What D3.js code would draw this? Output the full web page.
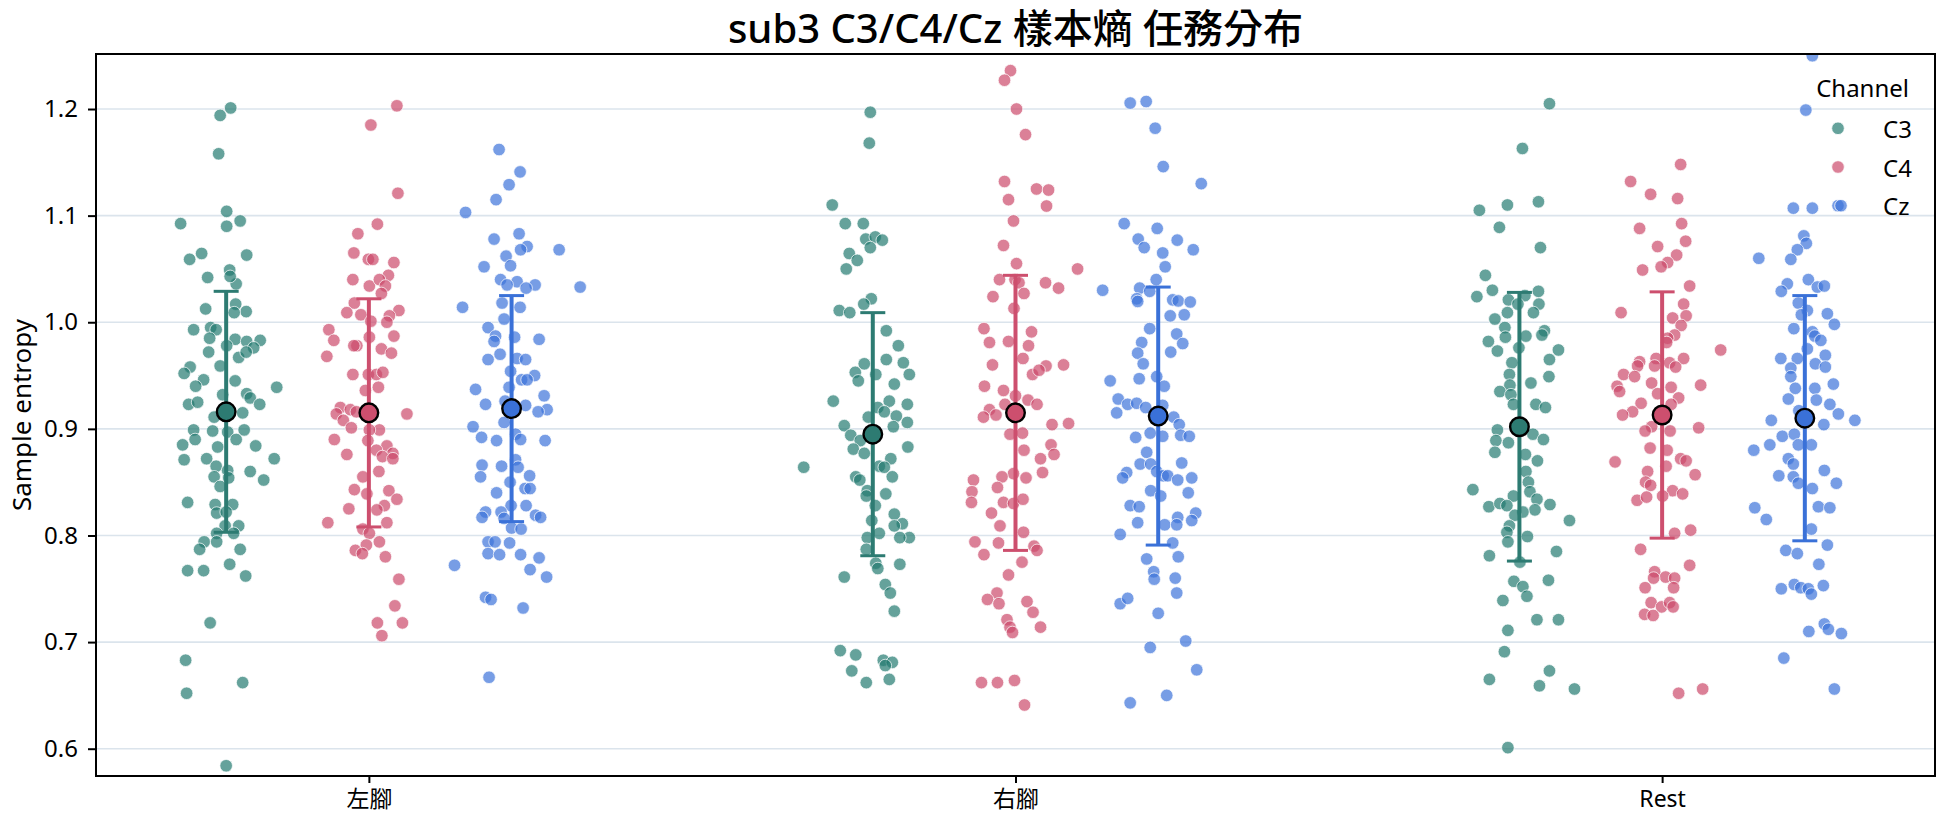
<!DOCTYPE html>
<html>
<head>
<meta charset="utf-8">
<script src="https://cdn.jsdelivr.net/npm/d3@7"></script>
<style>
  html, body { margin: 0; padding: 0; background: #fff; }
  svg { display: block; }
</style>
</head>
<body>
<svg id="chart" width="1944" height="827"></svg>
<script>
// ---------------- DATA ----------------
const categories = ["左腳", "右腳", "Rest"];
const channels = ["C3", "C4", "Cz"];
const yTicks = [0.6, 0.7, 0.8, 0.9, 1.0, 1.1, 1.2];
const titleText = "sub3 C3/C4/Cz 樣本熵 任務分布";
const yLabel = "Sample entropy";
const legendTitle = "Channel";

// point values: [sample entropy, jitter (in jitter units)]
const c3_left = [[1.201,0.09],[1.194,-0.12],[1.158,-0.15],[1.104,0.01],[1.0925,-0.91],[1.090,0.01],[1.095,0.28],[1.059,-0.73],[1.0645,-0.49],[1.063,0.41],[1.042,-0.37],[1.049,0.07],[1.036,0.2],[1.043,0.08],[1.0125,-0.41],[1.017,0.19],[1.010,0.4],[1.009,0.16],[0.993,-0.65],[0.995,-0.31],[0.993,-0.2],[0.985,-0.33],[0.984,0.18],[0.982,0.41],[0.983,0.68],[0.976,0.55],[0.972,-0.35],[0.978,0.01],[0.967,0.25],[0.972,0.4],[0.958,-0.72],[0.952,-0.84],[0.959,-0.12],[0.946,-0.45],[0.945,0.18],[0.940,-0.61],[0.939,1.01],[0.932,-0.07],[0.933,0.41],[0.929,0.48],[0.923,-0.75],[0.925,-0.57],[0.923,0.67],[0.911,-0.24],[0.915,0.33],[0.899,-0.65],[0.898,-0.27],[0.897,0.03],[0.899,0.36],[0.890,-0.62],[0.890,0.2],[0.885,-0.87],[0.883,-0.17],[0.884,0.59],[0.871,-0.84],[0.872,-0.39],[0.872,0.96],[0.865,-0.2],[0.861,0.03],[0.860,0.48],[0.855,-0.24],[0.854,0.05],[0.852,0.75],[0.846,-0.12],[0.831,-0.77],[0.829,-0.22],[0.821,-0.19],[0.829,0.13],[0.822,0],[0.809,0.25],[0.809,-0.02],[0.802,-0.19],[0.802,0.15],[0.794,-0.44],[0.794,-0.19],[0.787,-0.53],[0.787,0.28],[0.767,-0.77],[0.767,-0.45],[0.773,0.07],[0.762,0.39],[0.718,-0.32],[0.683,-0.81],[0.662,0.33],[0.652,-0.79],[0.584,0]];
const c4_left = [[1.203,0.56],[1.185,0.04],[1.121,0.58],[1.092,0.17],[1.083,-0.22],[1.065,-0.3],[1.059,-0.01],[1.059,0.08],[1.056,0.5],[1.044,0.39],[1.040,-0.32],[1.034,0.01],[1.040,0.21],[1.034,0.33],[1.027,0.25],[1.018,-0.29],[1.011,0.6],[1.009,-0.44],[1.007,-0.16],[1.006,0.41],[1.000,0.36],[1.001,0.04],[0.993,-0.8],[0.983,-0.7],[0.986,0.01],[0.987,0.5],[0.978,-0.24],[0.978,-0.3],[0.975,0.25],[0.971,0.45],[0.968,-0.84],[0.951,-0.32],[0.951,-0.01],[0.951,0.15],[0.953,0.28],[0.939,0.19],[0.936,-0.07],[0.920,-0.57],[0.918,-0.37],[0.914,-0.65],[0.916,-0.25],[0.914,0.76],[0.908,-0.51],[0.901,-0.35],[0.899,0.21],[0.899,0.01],[0.890,-0.69],[0.889,-0.02],[0.884,0.36],[0.880,0.15],[0.877,0.48],[0.874,0.27],[0.876,-0.44],[0.872,0.48],[0.860,0.2],[0.855,-0.12],[0.843,-0.29],[0.839,-0.04],[0.842,0.4],[0.834,0.56],[0.825,-0.4],[0.828,0.31],[0.824,0.16],[0.812,-0.82],[0.812,0.36],[0.806,-0.12],[0.802,0.01],[0.794,0.21],[0.791,-0.05],[0.786,-0.27],[0.783,-0.13],[0.780,0.33],[0.759,0.6],[0.734,0.52],[0.718,0.17],[0.718,0.67],[0.706,0.26]];
const cz_left = [[1.162,-0.25],[1.141,0.17],[1.129,-0.05],[1.115,-0.31],[1.103,-0.92],[1.078,-0.35],[1.083,0.15],[1.071,0.31],[1.068,0.18],[1.068,0.95],[1.062,-0.11],[1.052,-0.55],[1.053,-0.02],[1.040,-0.22],[1.038,0.11],[1.035,0.47],[1.032,0.29],[1.033,1.37],[1.035,-0.09],[1.014,-0.98],[1.018,-0.19],[1.014,0.17],[1.003,-0.15],[0.995,-0.47],[0.987,-0.32],[0.986,0.06],[0.984,0.55],[0.982,-0.35],[0.970,-0.23],[0.965,-0.47],[0.966,0.11],[0.965,0.28],[0.954,-0.02],[0.950,0.46],[0.946,0.2],[0.946,0.31],[0.939,-0.05],[0.937,-0.72],[0.931,0.65],[0.923,-0.52],[0.926,-0.13],[0.922,0.28],[0.918,0.71],[0.916,0.53],[0.906,-0.15],[0.902,-0.77],[0.895,0.08],[0.892,-0.6],[0.889,-0.3],[0.890,0.18],[0.889,0.67],[0.871,0.08],[0.866,-0.59],[0.865,-0.2],[0.864,0.13],[0.855,-0.62],[0.856,0.36],[0.850,-0.03],[0.840,-0.3],[0.844,0.27],[0.844,0.37],[0.828,-0.01],[0.828,0.29],[0.822,-0.52],[0.822,-0.21],[0.817,-0.59],[0.816,-0.15],[0.819,0.48],[0.817,0.58],[0.807,0],[0.806,0.19],[0.794,-0.47],[0.794,-0.33],[0.793,-0.04],[0.783,-0.47],[0.782,-0.24],[0.782,0.18],[0.779,0.55],[0.772,-1.14],[0.768,0.37],[0.761,0.7],[0.742,-0.52],[0.740,-0.41],[0.732,0.23],[0.667,-0.45]];
const c3_right = [[1.197,-0.05],[1.168,-0.07],[1.110,-0.81],[1.0925,-0.55],[1.0925,-0.19],[1.078,-0.14],[1.080,0.05],[1.077,0.19],[1.070,-0.05],[1.0645,-0.47],[1.058,-0.31],[1.050,-0.53],[1.022,-0.03],[1.017,-0.18],[1.011,-0.67],[1.009,-0.46],[0.992,0.27],[0.978,0.51],[0.965,0.27],[0.961,-0.17],[0.962,0.61],[0.953,-0.35],[0.951,0.06],[0.951,0.73],[0.945,-0.29],[0.942,0.43],[0.926,-0.79],[0.926,0.33],[0.923,0.69],[0.920,0.1],[0.916,0.23],[0.911,-0.09],[0.912,0.47],[0.906,0.69],[0.903,-0.57],[0.902,0.41],[0.894,-0.44],[0.889,-0.25],[0.881,-0.39],[0.877,-0.17],[0.883,0.7],[0.872,0.36],[0.864,-1.38],[0.865,0.13],[0.864,0.23],[0.855,-0.34],[0.852,-0.26],[0.855,0.39],[0.842,-0.11],[0.839,0.26],[0.837,-0.13],[0.828,0.05],[0.820,0.43],[0.814,-0.02],[0.811,0.59],[0.809,0.43],[0.798,0.73],[0.798,0.54],[0.802,0.13],[0.798,-0.11],[0.787,-0.13],[0.774,0.06],[0.769,0.1],[0.773,0.54],[0.761,-0.57],[0.754,0.25],[0.746,0.35],[0.729,0.43],[0.692,-0.65],[0.688,-0.34],[0.683,0.21],[0.681,0.39],[0.678,0.25],[0.673,-0.42],[0.665,0.33],[0.662,-0.13]];
const c4_right = [[1.236,-0.1],[1.227,-0.22],[1.200,0.02],[1.176,0.2],[1.132,-0.22],[1.125,0.42],[1.124,0.66],[1.115,-0.14],[1.109,0.62],[1.095,-0.04],[1.072,-0.24],[1.055,0.02],[1.050,1.24],[1.040,-0.32],[1.040,-0.01],[1.037,0.07],[1.037,0.6],[1.032,0.86],[1.027,0.17],[1.024,-0.45],[1.013,-0.03],[0.994,-0.63],[0.991,0.32],[0.981,-0.52],[0.982,-0.14],[0.978,0.26],[0.966,0.15],[0.960,-0.46],[0.959,0.61],[0.960,0.96],[0.951,0.34],[0.955,0.47],[0.940,-0.62],[0.936,-0.24],[0.931,0],[0.927,0.25],[0.918,-0.52],[0.923,-0.21],[0.923,0.43],[0.911,-0.64],[0.913,-0.39],[0.904,0.73],[0.905,1.06],[0.895,-0.11],[0.896,0.14],[0.885,0.71],[0.876,0.77],[0.880,0.17],[0.872,0.5],[0.859,0.54],[0.858,-0.04],[0.855,-0.27],[0.854,0.21],[0.852,-0.84],[0.841,-0.87],[0.845,-0.36],[0.831,-0.88],[0.831,-0.24],[0.830,-0.04],[0.834,0.15],[0.821,-0.48],[0.809,-0.31],[0.803,0.16],[0.794,-0.81],[0.793,-0.34],[0.790,0.37],[0.786,0.43],[0.782,-0.63],[0.775,0.13],[0.763,-0.14],[0.746,-0.37],[0.740,-0.56],[0.738,0.23],[0.736,-0.33],[0.728,0.35],[0.721,-0.17],[0.714,-0.11],[0.714,0.5],[0.709,-0.06],[0.662,-0.68],[0.662,-0.36],[0.664,-0.02],[0.641,0.18]];
const cz_right = [[1.2056,-0.56],[1.207,-0.24],[1.182,-0.06],[1.146,0.1],[1.130,0.86],[1.0925,-0.68],[1.088,-0.02],[1.078,-0.4],[1.070,-0.28],[1.077,0.38],[1.065,0.09],[1.068,0.7],[1.052,0.14],[1.030,-1.11],[1.040,-0.04],[1.032,-0.37],[1.029,-0.17],[1.022,-0.43],[1.0195,-0.41],[1.021,0.29],[1.020,0.4],[1.019,0.64],[1.006,0.24],[1.007,0.52],[0.994,-0.17],[0.989,0.37],[0.981,-0.33],[0.980,0.49],[0.971,-0.41],[0.972,0.25],[0.961,-0.3],[0.945,-0.96],[0.947,-0.38],[0.949,-0.03],[0.940,0.12],[0.928,-0.8],[0.923,-0.61],[0.924,-0.43],[0.920,-0.25],[0.922,0.09],[0.915,-0.83],[0.911,0.31],[0.904,0.42],[0.892,-0.45],[0.896,-0.16],[0.893,0.09],[0.894,0.45],[0.893,0.62],[0.878,-0.23],[0.867,-0.36],[0.867,-0.15],[0.868,0.47],[0.859,-0.63],[0.860,-0.03],[0.854,-0.71],[0.856,0.1],[0.856,0.19],[0.852,0.39],[0.854,0.67],[0.842,-0.15],[0.840,0.6],[0.837,0.05],[0.828,-0.56],[0.827,-0.38],[0.817,0.39],[0.821,0.75],[0.814,0.67],[0.812,-0.41],[0.810,0.13],[0.810,0.37],[0.801,-0.76],[0.793,0.29],[0.778,-0.23],[0.780,0.4],[0.766,-0.09],[0.759,-0.08],[0.760,0.34],[0.746,0.37],[0.736,-0.76],[0.741,-0.61],[0.727,0],[0.695,-0.16],[0.701,0.55],[0.674,0.77],[0.643,-0.56],[0.650,0.17]];
const c3_rest = [[1.205,0.6],[1.163,0.06],[1.105,-0.8],[1.110,-0.24],[1.113,0.38],[1.089,-0.4],[1.070,0.42],[1.044,-0.68],[1.030,-0.54],[1.024,-0.85],[1.029,0.38],[1.021,-0.22],[1.025,0.11],[1.017,-0.03],[1.017,0.39],[1.009,-0.24],[1.009,0.28],[1.003,-0.49],[0.995,-0.29],[0.992,0.5],[0.988,0.45],[0.986,-0.28],[0.987,0.13],[0.982,-0.62],[0.973,-0.44],[0.976,-0.01],[0.974,0.78],[0.965,0.6],[0.962,-0.15],[0.951,-0.2],[0.949,0.59],[0.943,0.23],[0.941,-0.19],[0.935,-0.39],[0.932,-0.17],[0.923,0.33],[0.920,0.52],[0.923,-0.12],[0.899,-0.44],[0.895,0.27],[0.889,-0.47],[0.890,0.48],[0.887,-0.22],[0.878,-0.49],[0.876,0.12],[0.870,0.36],[0.860,0.13],[0.850,0.18],[0.843,-0.93],[0.841,0.21],[0.837,-0.12],[0.834,0.35],[0.827,-0.61],[0.830,-0.39],[0.828,-0.25],[0.829,0.61],[0.824,0.31],[0.822,0.07],[0.819,-0.09],[0.814,1.0],[0.809,-0.2],[0.803,-0.25],[0.799,0.16],[0.794,-0.23],[0.781,-0.6],[0.785,0.74],[0.775,0.01],[0.757,-0.11],[0.752,0.07],[0.758,0.58],[0.743,0.15],[0.739,-0.33],[0.721,0.35],[0.721,0.78],[0.711,-0.23],[0.691,-0.3],[0.673,0.6],[0.665,-0.6],[0.659,0.4],[0.656,1.1],[0.601,-0.23]];
const c4_rest = [[1.148,0.37],[1.132,-0.63],[1.120,-0.23],[1.116,0.31],[1.0925,0.39],[1.088,-0.45],[1.076,0.47],[1.071,-0.09],[1.063,0.29],[1.056,0.11],[1.052,-0.02],[1.049,-0.39],[1.034,0.55],[1.017,0.43],[1.009,-0.82],[1.006,0.48],[1.004,0.21],[0.997,0.38],[0.988,0.25],[0.985,0.11],[0.981,0.09],[0.974,1.17],[0.966,0.43],[0.963,-0.45],[0.966,-0.12],[0.962,0.15],[0.959,-0.49],[0.959,-0.15],[0.958,0.27],[0.951,-0.77],[0.949,-0.55],[0.943,-0.21],[0.940,-0.9],[0.939,0.18],[0.941,0.77],[0.935,-0.85],[0.933,-0.09],[0.929,0.33],[0.924,-0.42],[0.923,0.18],[0.916,-0.59],[0.913,-0.79],[0.902,-0.21],[0.898,-0.34],[0.898,0.16],[0.901,0.73],[0.882,-0.24],[0.880,0.1],[0.869,-0.94],[0.872,0.37],[0.870,0.48],[0.865,0.08],[0.860,-0.29],[0.857,0.66],[0.850,-0.33],[0.847,-0.23],[0.842,0.21],[0.839,0.41],[0.837,0.01],[0.833,-0.5],[0.836,-0.31],[0.802,0.25],[0.805,0.57],[0.787,-0.43],[0.772,0.55],[0.766,-0.15],[0.761,0.07],[0.760,0.25],[0.760,-0.17],[0.751,-0.34],[0.751,0.23],[0.737,-0.22],[0.733,-0.01],[0.737,0.15],[0.733,0.22],[0.726,-0.35],[0.725,-0.18],[0.652,0.33],[0.656,0.81]];
const cz_rest = [[1.250,0.15],[1.199,0.02],[1.107,-0.23],[1.107,0.15],[1.081,-0.02],[1.074,0.03],[1.068,-0.15],[1.060,-0.92],[1.059,-0.28],[1.040,0.07],[1.036,-0.35],[1.029,-0.47],[1.033,0.25],[1.034,0.39],[1.018,-0.13],[1.011,0.05],[1.008,0.45],[1.007,-0.07],[0.998,0.59],[0.994,-0.22],[0.991,0.15],[0.987,0.2],[0.983,0.32],[0.975,0.05],[0.969,0.41],[0.966,-0.48],[0.966,-0.15],[0.961,0.21],[0.957,-0.28],[0.958,0.41],[0.949,-0.28],[0.942,0.57],[0.938,-0.19],[0.938,0.2],[0.928,-0.33],[0.927,0.23],[0.923,0.5],[0.914,0.67],[0.917,-0.12],[0.908,-0.67],[0.908,1.0],[0.904,0.38],[0.893,-0.45],[0.895,-0.21],[0.880,-1.02],[0.885,-0.7],[0.885,-0.13],[0.885,0.13],[0.872,-0.33],[0.867,-0.23],[0.861,0.39],[0.856,-0.52],[0.855,-0.23],[0.849,0.63],[0.849,-0.13],[0.844,0.15],[0.826,-1.0],[0.827,0.27],[0.826,0.5],[0.815,-0.77],[0.806,0.13],[0.786,-0.38],[0.783,-0.15],[0.791,0.45],[0.773,0.28],[0.750,-0.47],[0.754,-0.21],[0.751,-0.08],[0.750,0.07],[0.753,0.37],[0.745,0.13],[0.717,0.39],[0.710,0.08],[0.712,0.47],[0.708,0.73],[0.685,-0.42],[0.656,0.59]];

// summary statistics (mean ± sd), order: 左腳, 右腳, Rest
const meanC3 = [0.916, 0.895, 0.902];
const meanC4 = [0.915, 0.915, 0.913];
const meanCz = [0.919, 0.912, 0.910];
const sdC3 = [0.113, 0.114, 0.126];
const sdC4 = [0.107, 0.129, 0.1155];
const sdCz = [0.106, 0.121, 0.115];

// ---------------- BUILD TABLES ----------------
const pointsBy = {
  C3: [c3_left, c3_right, c3_rest],
  C4: [c4_left, c4_right, c4_rest],
  Cz: [cz_left, cz_right, cz_rest]
};
const meansBy = { C3: meanC3, C4: meanC4, Cz: meanCz };
const sdBy = { C3: sdC3, C4: sdC4, Cz: sdCz };

const points = [];
channels.forEach(ch => {
  categories.forEach((cat, ci) => {
    pointsBy[ch][ci].forEach(([v, j]) => points.push({ channel: ch, cat, v, j }));
  });
});
const stats = [];
channels.forEach(ch => categories.forEach((cat, ci) =>
  stats.push({ channel: ch, cat, mean: meansBy[ch][ci], sd: sdBy[ch][ci] })));

// ---------------- LAYOUT ----------------
const W = 1944, H = 827;
const M = { left: 96, right: 1935, top: 54, bottom: 776 };

const pointColor = d3.scaleOrdinal().domain(channels).range(["#237a70", "#cc4a6b", "#3d73da"]);
const meanColor = d3.scaleOrdinal().domain(channels).range(["#2d7b72", "#cd4f6e", "#3a71d8"]);

const x = d3.scalePoint().domain(categories).range([M.left, M.right]).padding(0.422);
const step = x.step();
const dodge = d3.scalePoint().domain(channels).range([-0.2207, 0.2207]);
const jitterUnit = 0.0774;
const y = d3.scaleLinear().domain([0.5744, 1.2516]).range([M.bottom, M.top]);

const svg = d3.select("#chart");
svg.append("rect").attr("width", W).attr("height", H).attr("fill", "#fff");

svg.append("defs").append("clipPath").attr("id", "plotclip")
  .append("rect").attr("x", M.left).attr("y", M.top)
  .attr("width", M.right - M.left).attr("height", M.bottom - M.top);

const baseFont = "'Noto Sans', 'Open Sans', sans-serif";

// gridlines
svg.append("g").selectAll("line").data(yTicks).join("line")
  .attr("x1", M.left).attr("x2", M.right)
  .attr("y1", d => y(d)).attr("y2", d => y(d))
  .attr("stroke", "#dbe4ec").attr("stroke-width", 1.6);

const plot = svg.append("g").attr("clip-path", "url(#plotclip)");

// strip points
plot.append("g").selectAll("circle").data(points).join("circle")
  .attr("cx", d => x(d.cat) + (dodge(d.channel) + d.j * jitterUnit) * step)
  .attr("cy", d => y(d.v))
  .attr("r", 6.3)
  .attr("fill", d => pointColor(d.channel))
  .attr("fill-opacity", 0.7)
  .attr("stroke", "#fff")
  .attr("stroke-width", 0.8)
  .attr("stroke-opacity", 0.9);

// error bars
const eb = plot.append("g");
stats.forEach(s => {
  const cx = x(s.cat) + dodge(s.channel) * step;
  const col = meanColor(s.channel);
  const lo = y(s.mean - s.sd), hi = y(s.mean + s.sd);
  eb.append("line").attr("x1", cx).attr("x2", cx).attr("y1", lo).attr("y2", hi)
    .attr("stroke", col).attr("stroke-width", 4);
  [lo, hi].forEach(yy => eb.append("line")
    .attr("x1", cx - 12.5).attr("x2", cx + 12.5).attr("y1", yy).attr("y2", yy)
    .attr("stroke", col).attr("stroke-width", 3));
});
// mean markers
plot.append("g").selectAll("circle").data(stats).join("circle")
  .attr("cx", d => x(d.cat) + dodge(d.channel) * step)
  .attr("cy", d => y(d.mean))
  .attr("r", 9.3)
  .attr("fill", d => meanColor(d.channel))
  .attr("stroke", "#000").attr("stroke-width", 2.4);

// frame
svg.append("rect").attr("x", M.left).attr("y", M.top)
  .attr("width", M.right - M.left).attr("height", M.bottom - M.top)
  .attr("fill", "none").attr("stroke", "#000").attr("stroke-width", 2);

// y axis
const yAxis = d3.axisLeft(y).tickValues(yTicks).tickFormat(d3.format(".1f")).tickSize(8).tickPadding(10);
const gy = svg.append("g").attr("transform", `translate(${M.left},0)`).call(yAxis);
gy.select(".domain").remove();
gy.selectAll(".tick line").attr("stroke", "#000").attr("stroke-width", 2);
gy.selectAll(".tick text").attr("font-family", baseFont).attr("font-size", 24).attr("fill", "#000");

// x axis
const xAxis = d3.axisBottom(x).tickSize(7).tickPadding(8);
const gx = svg.append("g").attr("transform", `translate(0,${M.bottom})`).call(xAxis);
gx.select(".domain").remove();
gx.selectAll(".tick line").attr("stroke", "#000").attr("stroke-width", 2);
gx.selectAll(".tick text").attr("font-family", "'Noto Sans', 'Noto Sans CJK TC', sans-serif")
  .attr("font-size", 23).attr("fill", "#000");

// y label
svg.append("text")
  .attr("transform", `translate(21,${(M.top + M.bottom) / 2}) rotate(-90)`)
  .attr("text-anchor", "middle").attr("dominant-baseline", "central")
  .attr("font-family", baseFont).attr("font-size", 26).attr("fill", "#000")
  .text(yLabel);

// title
svg.append("text")
  .attr("x", (M.left + M.right) / 2).attr("y", 43)
  .attr("text-anchor", "middle")
  .attr("font-family", "'Noto Sans', 'Noto Sans CJK TC', sans-serif")
  .attr("font-size", 40).attr("font-weight", 500).attr("fill", "#000")
  .text(titleText);

// legend
const lg = svg.append("g");
lg.append("text").attr("x", 1909).attr("y", 97).attr("text-anchor", "end")
  .attr("font-family", baseFont).attr("font-size", 24).attr("fill", "#000").text(legendTitle);
channels.forEach((ch, i) => {
  const cy = 128.3 + i * 38.7;
  const offsets = ch === "Cz" ? [0, 3] : [0];
  offsets.forEach(o => lg.append("circle").attr("cx", 1838 + o).attr("cy", cy).attr("r", 6.3)
    .attr("fill", pointColor(ch)).attr("fill-opacity", 0.7)
    .attr("stroke", "#fff").attr("stroke-width", 0.8));
  lg.append("text").attr("x", 1883).attr("y", cy).attr("dominant-baseline", "central")
    .attr("font-family", baseFont).attr("font-size", 24).attr("fill", "#000").text(ch);
});
</script>
</body>
</html>
